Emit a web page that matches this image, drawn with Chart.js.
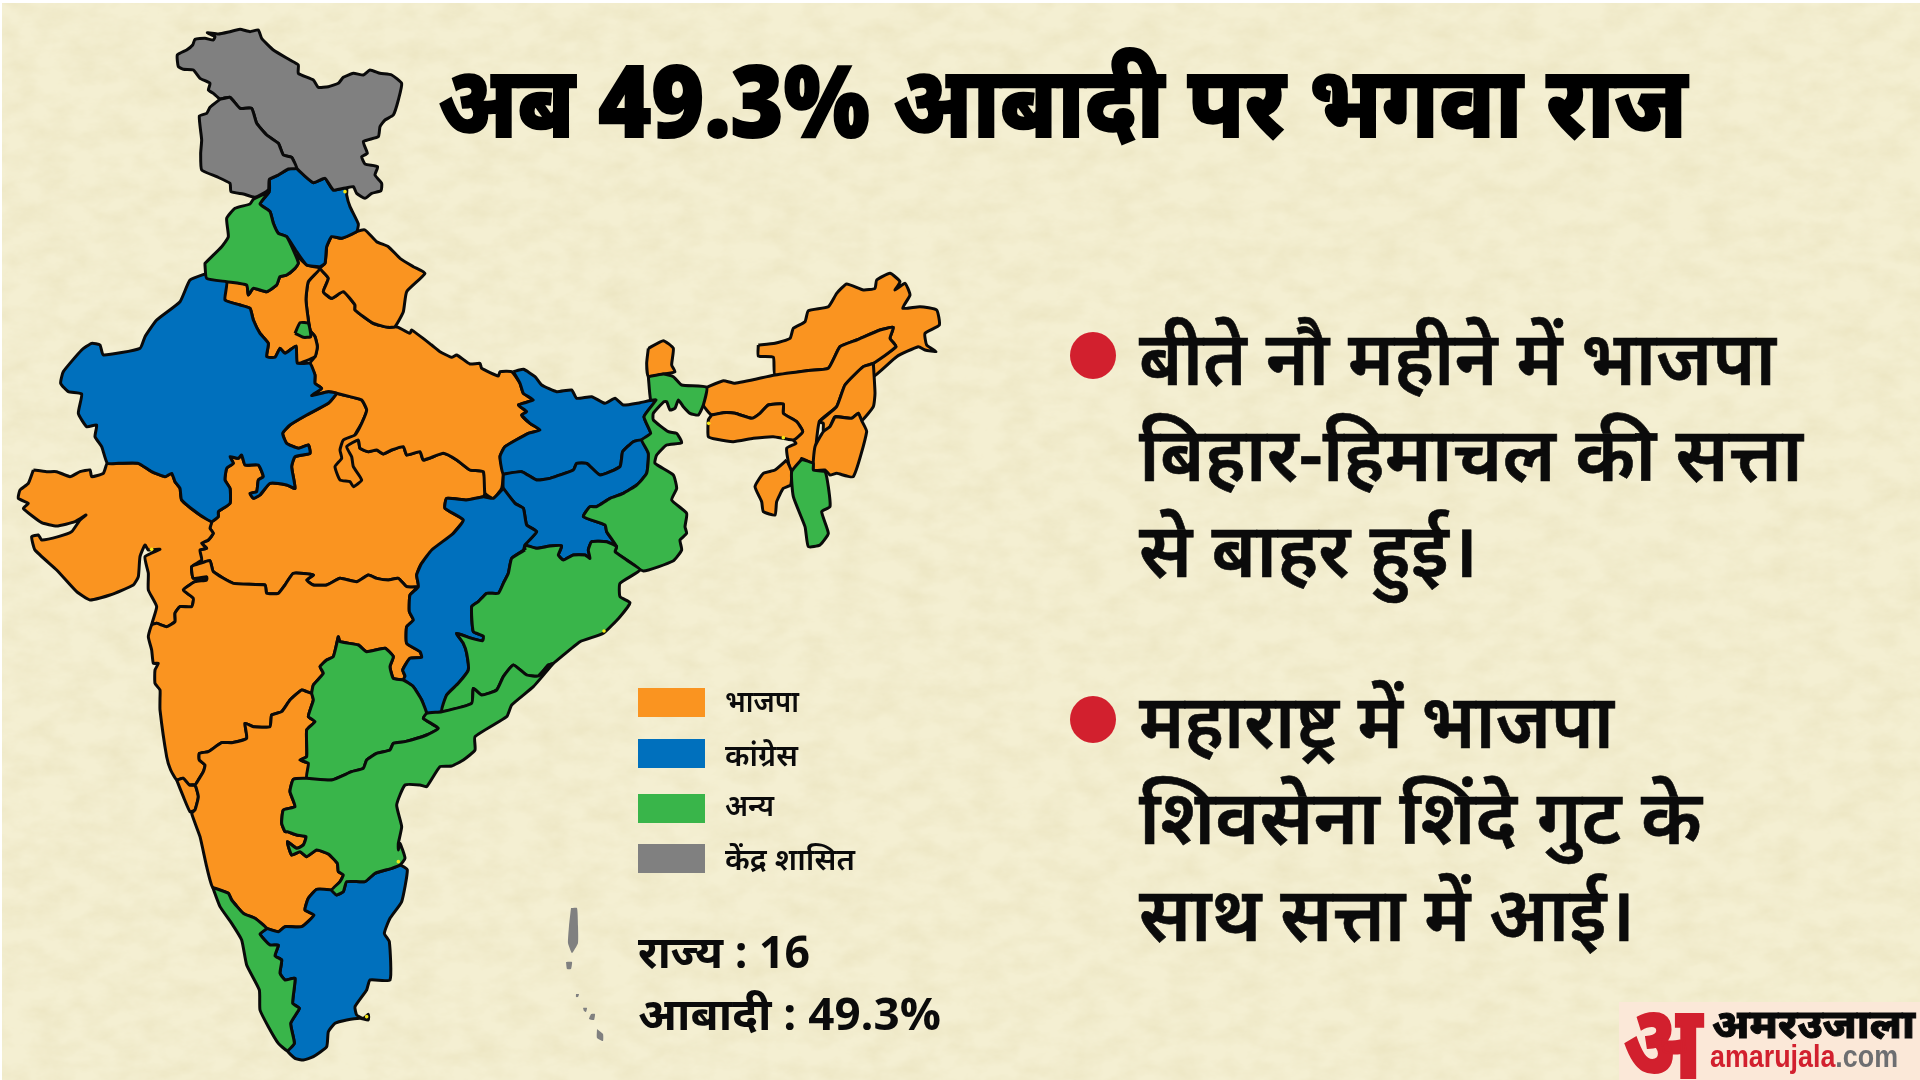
<!DOCTYPE html>
<html>
<head>
<meta charset="utf-8">
<script src="https://cdn.jsdelivr.net/npm/chart.js@4"></script>
<style>
  html, body { margin: 0; background: #fff; }
  #page { position: relative; width: 1920px; height: 1080px; overflow: hidden; font-family: 'Open Sans', 'Noto Sans', sans-serif; color: #0b0b0b; }
  #paper { position: absolute; left: 2px; top: 3px; }
  #mapChart { position: absolute; left: 0; top: 0; }
  .t { position: absolute; white-space: nowrap; line-height: 1; transform-origin: left top; }
  .title { left: 438px; font-size: 100px; font-weight: 800; -webkit-text-stroke: 2px #000; color: #000; }
  .bullet { position: absolute; left: 1070px; width: 46px; height: 47px; border-radius: 50%; background: #d2202e; }
  .line { left: 1139px; font-size: 76px; font-weight: 600; -webkit-text-stroke: 0.6px #0b0b0b; }
  .swatch { position: absolute; left: 638px; width: 67px; height: 29px; }
  .legendText { left: 725px; font-size: 30px; font-weight: 600; }
  .stat { left: 638px; font-size: 44px; font-weight: 700; }
  #logo { position: absolute; left: 1619px; top: 1002px; width: 301px; height: 78px; background: #fbe8d8; }
</style>
</head>
<body>
<div id="page">
  <svg id="paper" width="1918" height="1077">
    <filter id="mottle" x="0" y="0" width="100%" height="100%">
      <feTurbulence type="fractalNoise" baseFrequency="0.03 0.05" numOctaves="5" seed="7"/>
      <feColorMatrix values="0 0 0 0 0.80  0 0 0 0 0.74  0 0 0 0 0.48  0 0 0 0.9 -0.30"/>
    </filter>
    <rect width="1918" height="1077" fill="#f4efd2"/>
    <rect width="1918" height="1077" filter="url(#mottle)"/>
  </svg>
  <canvas id="mapChart" width="1920" height="1080"></canvas>
  <div id="labels"></div>
  <div id="logo"></div>
</div>
<script>
const sheet = (x0, y0) => pts => pts.map(p => [x0 + p[0] / 3, y0 + p[1] / 3]);
const sheetA = sheet(0, 250), sheetB = sheet(150, 550), sheetC = sheet(440, 250);
const sheetD = sheet(150, 20), sheetE = sheet(200, 830), sheetF = sheet(0, 450);

const ladakh = sheetD([[210,238],[190,220],[175,210],[180,190],[150,175],[130,150],[100,148],[85,140],[82,105],[110,90],[128,75],[135,58],[165,55],[190,60],[195,50],[172,38],[205,42],[240,35],[270,28],[300,35],[325,30],[335,55],[370,90],[420,120],[445,135],[445,160],[490,180],[505,202],[535,200],[565,190],[580,172],[610,160],[640,165],[660,150],[690,160],[725,165],[755,190],[745,240],[730,285],[705,300],[690,320],[685,350],[640,365],[652,400],[635,410],[645,432],[683,440],[675,465],[695,490],[693,512],[665,520],[645,535],[620,520],[610,500],[590,503],[550,510],[525,475],[490,488],[440,445],[425,412],[400,405],[385,370],[350,345],[320,310],[305,265],[270,265],[240,232]]);
const jammuKashmir = sheetD([[210,238],[240,232],[270,265],[305,265],[320,310],[350,345],[385,370],[400,405],[425,412],[440,445],[415,447],[385,465],[358,478],[355,510],[315,532],[280,522],[243,515],[240,490],[200,470],[155,450],[152,400],[155,360],[148,288],[170,280],[180,262]]);
const himachal = sheetD([[358,478],[385,465],[415,447],[440,445],[490,488],[525,475],[550,510],[590,503],[590,525],[600,560],[625,612],[620,635],[575,655],[545,650],[530,680],[525,730],[510,740],[470,735],[440,695],[410,650],[385,640],[370,610],[360,575],[330,552],[358,515]]);
const punjab = [...sheetD([[358,515],[310,538],[300,552],[255,565],[230,595],[235,650],[215,680],[165,730]]), ...sheetA([[615,45],[620,85],[680,95],[740,105],[745,135],[760,115],[800,125],[830,105],[840,80],[860,75],[885,55],[895,40],[885,12]]), ...sheetD([[410,650],[385,640],[370,610],[360,575],[330,552]])];
const haryana = sheetA([[885,12],[895,40],[885,55],[860,75],[840,80],[830,105],[800,125],[760,115],[745,135],[740,105],[680,95],[675,150],[720,165],[750,175],[760,210],[780,250],[805,280],[800,320],[825,322],[840,295],[855,310],[888,288],[892,340],[945,320],[952,290],[945,260],[930,240],[918,150],[925,95],[960,55],[920,45]]);
const delhi = sheetA([[885,250],[900,218],[925,220],[932,260],[910,262]]);
const uttarakhand = [...sheetD([[530,680],[545,650],[575,655],[620,635],[645,630],[680,665],[715,680],[750,715]]), ...sheetA([[1240,50],[1275,70],[1220,125],[1210,185],[1185,230],[1165,232],[1120,220],[1065,180],[1065,165],[1030,125],[995,145],[970,125],[985,85],[960,55]]), ...sheetD([[525,730]])];
const rajasthan = sheetA([[620,70],[570,90],[540,155],[470,210],[435,260],[420,295],[310,315],[300,285],[275,280],[245,300],[190,365],[182,400],[205,425],[245,432],[235,490],[260,530],[290,525],[285,560],[305,590],[322,640],[355,640],[415,640],[455,665],[495,680],[515,670],[525,695],[540,715],[545,750],[600,795],[635,815],[655,800],[655,785],[690,760],[690,715],[675,690],[680,655],[700,640],[690,620],[715,625],[725,615],[735,645],[775,645],[790,680],[775,690],[770,725],[750,730],[760,745],[780,735],[810,700],[860,705],[885,715],[875,650],[885,620],[930,610],[925,585],[895,595],[860,580],[848,550],[870,525],[920,495],[985,460],[1010,430],[985,425],[935,437],[965,415],[945,400],[945,375],[930,340],[892,340],[888,288],[855,310],[840,295],[825,322],[800,320],[805,280],[780,250],[760,210],[750,175],[720,165],[675,150],[680,95]]);
const gujarat = sheetF([[100,60],[140,65],[170,65],[210,80],[240,65],[270,60],[275,80],[310,70],[322,40],[360,40],[415,40],[455,65],[495,80],[515,70],[525,95],[540,115],[545,150],[600,195],[635,215],[630,235],[640,250],[625,270],[605,280],[620,295],[600,300],[605,330],[575,350],[580,385],[620,380],[620,390],[585,395],[550,420],[580,445],[575,470],[540,470],[525,490],[525,515],[500,530],[470,520],[455,525],[470,470],[445,420],[445,370],[435,320],[480,298],[445,300],[435,285],[420,320],[415,380],[400,405],[330,435],[270,450],[230,425],[170,360],[105,300],[95,260],[115,255],[125,270],[175,260],[215,245],[240,210],[258,195],[225,215],[170,228],[125,218],[70,175],[85,160],[55,145],[60,120],[85,100]]);
const madhyaPradesh = [...sheetA([[1010,430],[1050,440],[1085,450],[1100,480],[1085,520],[1065,555],[1075,570],[1080,595],[1105,605],[1130,600],[1150,612],[1175,600],[1210,590],[1220,615],[1260,605],[1270,630],[1330,610],[1370,630],[1410,660],[1450,665],[1455,730],[1450,740],[1400,750],[1340,745],[1335,775],[1390,810],[1360,850],[1340,900]]), ...sheetB([[815,40],[800,75],[805,110],[770,110],[745,85],[715,90],[680,85],[655,75],[620,95],[570,85],[530,105],[490,105],[470,90],[490,75],[430,70],[405,105],[385,130],[350,130],[345,105],[250,100],[190,65],[180,32],[150,40]]), ...sheetF([[600,300],[620,295],[605,280],[625,270],[640,250],[630,235],[635,215]]), ...sheetA([[655,800],[655,785],[690,760],[690,715],[675,690],[680,655],[700,640],[690,620],[715,625],[725,615],[735,645],[775,645],[790,680],[775,690],[770,725],[750,730],[760,745],[780,735],[810,700],[860,705],[885,715],[875,650],[885,620],[930,610],[925,585],[895,595],[860,580],[848,550],[870,525],[920,495],[985,460]])];
const uttarPradesh = [...sheetA([[960,55],[925,95],[918,150],[930,240],[945,260],[952,290],[945,320],[930,340],[945,375],[945,400],[965,415],[935,437],[985,425],[1010,430],[1050,440],[1085,450],[1100,480],[1085,520],[1065,555],[1030,570],[1020,600],[1025,625],[1005,650],[1020,690],[1050,695],[1060,710],[1085,690],[1060,650],[1055,620],[1040,590],[1075,570],[1080,595],[1105,605],[1130,600],[1150,612],[1175,600],[1210,590],[1220,615],[1260,605],[1270,630],[1330,610],[1370,630],[1410,660],[1450,665],[1455,730],[1480,745]]), ...sheetC([[185,715],[190,670],[180,620],[195,590],[265,550],[300,540],[270,520],[245,495],[260,485],[235,465],[280,450],[250,430],[240,400],[215,365],[180,365],[175,378],[125,355],[120,340],[90,342],[50,315],[35,322],[0,305]]), ...sheetA([[1295,285],[1235,240],[1230,250],[1195,232],[1185,230],[1165,232],[1120,220],[1065,180],[1065,165],[1030,125],[995,145],[970,125],[985,85]])];
const bihar = sheetC([[220,365],[250,358],[285,380],[305,405],[350,425],[395,420],[410,445],[455,440],[495,460],[525,445],[550,465],[600,458],[648,450],[612,500],[632,550],[605,570],[580,575],[548,605],[540,650],[480,675],[440,640],[410,640],[400,660],[330,685],[290,690],[245,665],[190,672],[180,620],[195,590],[265,550],[300,540],[270,520],[245,495],[260,485],[235,465],[280,450],[250,430],[240,400]]);
const jharkhand = [...sheetC([[190,672],[245,665],[290,690],[330,685],[400,660],[410,640],[440,640],[480,675],[540,650],[548,605],[580,575],[605,570],[625,610],[620,670],[590,705],[550,730],[510,745],[470,770],[450,770],[430,800],[495,825],[500,845],[530,890],[500,875],[455,875],[445,900]]), ...sheetB([[1320,25],[1305,15],[1270,15],[1240,30],[1225,15]]), ...sheetC([[365,888],[330,888],[290,895],[255,885],[290,845],[260,825],[250,775],[225,760],[190,715]])];
const chhattisgarh = [...sheetC([[190,715],[225,760],[250,775],[260,825],[290,845],[255,885],[250,900]]), ...sheetB([[1085,25],[1075,70],[1060,100],[1045,130],[1010,130],[985,155],[965,170],[970,245],[1000,258],[998,272],[965,265],[920,250],[940,280],[950,310],[955,360],[925,400],[890,435],[875,485],[830,490],[815,450],[790,410],[760,390],[765,378],[758,360],[780,325],[815,322],[810,305],[770,280],[770,230],[790,210],[778,185],[780,135],[805,110],[800,75],[815,40],[845,0]]), ...sheetA([[1360,850],[1390,810],[1335,775],[1340,745],[1400,750],[1450,740],[1480,745]])];
const telangana = sheetB([[565,260],[570,275],[625,285],[650,305],[705,295],[730,320],[720,350],[730,385],[760,390],[790,410],[815,450],[830,490],[820,505],[865,535],[830,555],[765,575],[730,580],[720,600],[680,610],[650,630],[640,655],[605,665],[545,690],[470,685],[475,640],[450,630],[470,620],[470,540],[495,515],[475,500],[490,450],[485,430],[490,405],[520,370],[510,350],[530,330],[550,320]]);
const maharashtra = [...sheetB([[805,110],[770,110],[745,85],[715,90],[680,85],[655,75],[620,95],[570,85],[530,105],[490,105],[470,90],[490,75],[430,70],[405,105],[385,130],[350,130],[345,105],[250,100],[190,65],[180,32],[150,40]]), ...sheetF([[575,350],[580,385],[620,380],[620,390],[585,395],[550,420],[580,445],[575,470],[540,470],[525,490],[525,515],[500,530],[470,520],[455,525],[445,560],[455,600],[460,640],[475,640],[465,660],[465,700],[480,720],[480,745]]), ...sheetB([[30,480],[50,620],[62,660],[80,690],[100,685],[118,705],[135,705],[145,690],[160,665],[165,645],[148,630],[148,610],[175,605],[215,578],[245,578],[290,565],[285,520],[310,530],[360,530],[365,495],[395,485],[420,450],[455,420],[470,425],[485,430],[490,405],[520,370],[510,350],[530,330],[550,320],[565,260],[570,275],[625,285],[650,305],[705,295],[730,320],[720,350],[730,385],[760,390],[765,378],[758,360],[780,325],[815,322],[810,305],[770,280],[770,230],[790,210],[778,185],[780,135]])];
const goa = sheetB([[80,690],[100,685],[118,705],[135,705],[145,740],[135,780],[120,785],[100,740]]);
const karnataka = [...sheetB([[118,705],[135,705],[145,690],[160,665],[165,645],[148,630],[148,610],[175,605],[215,578],[245,578],[290,565],[285,520],[310,530],[360,530],[365,495],[395,485],[420,450],[455,420],[470,425],[485,430],[490,450],[475,500],[495,515],[470,540],[470,620],[450,630],[475,640],[470,685],[430,688],[420,725],[435,770],[400,780],[395,820],[405,845]]), ...sheetE([[262,5],[290,15],[318,20],[310,45],[290,55],[262,35],[275,75],[300,65],[320,80],[350,60],[385,72],[412,100],[415,125],[430,135],[420,155],[395,180],[350,178],[325,205],[315,240],[342,255],[305,290],[255,290],[235,305],[200,295],[165,265],[130,250],[95,210],[85,190],[38,172],[20,110],[0,20]]), ...sheetB([[125,790],[135,780],[145,740],[135,705]])];
const andhra = [...sheetB([[1210,340],[1150,410],[1085,465],[1070,500],[975,560],[975,600],[940,630],[905,648],[870,650],[830,710],[810,705],[765,705],[740,765],[755,830],[745,880],[745,900]]), ...sheetE([[600,40],[615,85],[600,105],[575,115],[525,130],[495,155],[440,155],[430,185],[410,195],[395,180],[420,155],[430,135],[415,125],[412,100],[385,72],[350,60],[320,80],[300,65],[275,75],[262,35],[290,55],[310,45],[318,20],[290,15],[262,5]]), ...sheetB([[405,845],[395,820],[400,780],[435,770],[420,725],[430,688],[470,685],[545,690],[605,665],[640,655],[650,630],[680,610],[720,600],[730,580],[765,575],[830,555],[865,535],[820,505],[830,490],[875,485],[965,460],[970,415],[995,435],[1040,420],[1060,380],[1090,345],[1130,375],[1165,378],[1195,345]])];
const kerala = sheetE([[38,172],[85,190],[95,210],[130,250],[165,265],[200,295],[180,312],[210,345],[235,345],[225,378],[245,390],[240,430],[255,450],[285,445],[278,520],[298,535],[272,580],[283,640],[262,662],[235,640],[205,590],[180,540],[178,480],[140,405],[125,330],[95,280],[60,230]]);
const tamilNadu = sheetE([[200,295],[235,305],[255,290],[305,290],[342,255],[315,240],[325,205],[350,178],[395,180],[410,195],[430,185],[440,155],[495,155],[525,130],[575,115],[600,105],[622,120],[605,215],[570,265],[553,310],[568,335],[570,450],[510,450],[500,480],[465,530],[470,555],[490,565],[505,553],[505,570],[480,565],[440,570],[405,580],[385,605],[380,650],[340,680],[310,690],[285,685],[262,662],[283,640],[272,580],[298,535],[278,520],[285,445],[255,450],[240,430],[245,390],[225,378],[235,345],[210,345],[180,312]]);
const odisha = [...sheetB([[1125,0],[1085,25],[1075,70],[1060,100],[1045,130],[1010,130],[985,155],[965,170],[970,245],[1000,258],[998,272],[965,265],[920,250],[940,280],[950,310],[955,360],[925,400],[890,435],[875,485],[965,460],[970,415],[995,435],[1040,420],[1060,380],[1090,345],[1130,375],[1165,378],[1195,345],[1210,340],[1290,275],[1360,250],[1410,200],[1440,158],[1410,140],[1410,100],[1470,60],[1430,30],[1395,5]]), ...sheetC([[530,890],[500,875],[455,875],[445,900]]), ...sheetB([[1320,25],[1305,15],[1270,15],[1240,30],[1225,15]]), ...sheetC([[365,888],[330,888],[290,895],[255,885]])];
const westBengal = [...sheetC([[625,380],[670,372],[700,380],[725,405],[800,412],[790,465],[775,495],[750,490],[730,470],[715,450],[705,475],[690,480],[680,455],[672,455],[640,490],[640,510],[685,545],[710,550],[725,578],[680,585],[650,615],[645,640],[700,675],[710,715],[695,750],[740,790],[735,830],[740,850],[720,870],[725,900],[699,933],[610,963]]), ...sheetB([[1430,30],[1395,5]]), ...sheetC([[530,890],[500,845],[495,825],[430,800],[450,770],[470,770],[510,745],[550,730],[590,705],[620,670],[625,610],[605,570],[632,550],[612,500],[648,450],[632,450]])];
const sikkim = sheetC([[625,295],[670,272],[700,295],[695,345],[705,365],[670,372],[625,380],[620,340]]);
const arunachal = sheetC([[955,285],[1005,280],[1050,265],[1060,235],[1095,215],[1105,182],[1165,170],[1190,130],[1220,102],[1270,120],[1305,115],[1310,90],[1350,70],[1380,95],[1365,120],[1395,100],[1410,135],[1388,175],[1440,170],[1490,180],[1498,225],[1455,250],[1460,285],[1488,305],[1455,300],[1435,290],[1370,320],[1302,378],[1300,340],[1368,290],[1350,265],[1360,232],[1320,240],[1250,270],[1200,290],[1165,355],[1100,362],[1005,375],[1000,322],[955,318]]);
const assam = sheetC([[800,412],[850,392],[885,400],[1005,375],[1100,362],[1165,355],[1200,290],[1250,270],[1320,240],[1360,232],[1350,265],[1368,290],[1300,340],[1270,350],[1215,405],[1190,470],[1138,515],[1120,640],[1085,625],[1075,665],[1050,655],[1040,595],[1068,580],[1060,570],[1088,545],[1070,515],[1030,490],[1030,462],[985,465],[960,490],[935,505],[885,490],[850,488],[815,495],[790,465]]);
const meghalaya = sheetC([[815,495],[850,488],[885,490],[935,505],[960,490],[985,465],[1030,462],[1030,490],[1070,515],[1088,545],[1060,570],[1000,560],[940,565],[880,575],[830,568],[805,560],[805,510]]);
const nagaland = sheetC([[1300,340],[1305,430],[1300,470],[1265,512],[1255,490],[1235,505],[1185,500],[1170,530],[1150,545],[1150,520],[1138,515],[1190,470],[1215,405],[1270,350]]);
const manipur = sheetC([[1185,500],[1235,505],[1255,490],[1265,512],[1280,545],[1240,680],[1190,670],[1170,675],[1155,660],[1120,660],[1125,590],[1150,545],[1170,530]]);
const tripura = sheetC([[1040,630],[1005,660],[970,670],[945,710],[965,755],[970,785],[1005,795],[1010,755],[1030,715],[1052,705],[1055,665]]);
const mizoram = sheetC([[1085,628],[1120,640],[1120,660],[1155,665],[1165,710],[1170,770],[1145,785],[1165,850],[1140,885],[1105,890],[1095,830],[1060,740],[1055,665]]);

// islands, no outline
const lakshadweep = [[571,908],[577,908],[578,926],[578,943],[572,953],[568,943],[569,926]];
const minicoy = [[566,962],[572,962],[571,969],[567,969]];
const andamanA = [[591,1014],[595,1014],[594,1020],[589,1019]];
const andamanB = [[597,1029],[603,1034],[603,1041],[597,1038]];
const andamanC = [[576,994],[579,994],[578,997],[576,997]];
const andamanD = [[583,1008],[587,1008],[586,1012],[584,1011]];

const yellowSpots = [...sheetD([[585,515]]), ...sheetC([[806,520],[1030,563]]), ...sheetE([[595,95],[500,560]]), ...sheetF([[455,298]]), ...sheetB([[1362,243]])];

const bjpStates = [madhyaPradesh, uttarPradesh, haryana, uttarakhand, gujarat, maharashtra, goa, karnataka, sikkim, arunachal, assam, meghalaya, nagaland, manipur, tripura];
const congressStates = [rajasthan, himachal, bihar, jharkhand, chhattisgarh, tamilNadu];
const otherStates = [punjab, delhi, westBengal, odisha, telangana, andhra, kerala, mizoram];
const unionTerritories = [ladakh, jammuKashmir];
const islands = [lakshadweep, minicoy, andamanA, andamanB, andamanC, andamanD];

const legendLabels = ['भाजपा', 'कांग्रेस', 'अन्य', 'केंद्र शासित'];
const statLabels = ['राज्य : 16', 'आबादी : 49.3%'];
const titleText = 'अब 49.3% आबादी पर भगवा राज';
const noteOne = ['बीते नौ महीने में भाजपा', 'बिहार-हिमाचल की सत्ता', 'से बाहर हुई।'];
const noteTwo = ['महाराष्ट्र में भाजपा', 'शिवसेना शिंदे गुट के', 'साथ सत्ता में आई।'];

const colors = { bjp: '#fa9420', congress: '#0070bd', other: '#39b54a', ut: '#808080', spot: '#f5e616' };
const groupColors = [colors.bjp, colors.congress, colors.other, colors.ut];

function regionDataset(ring, color, outlined) {
    return {
        data: ring.concat([ring[0]]).map(p => ({ x: p[0], y: p[1] })),
        showLine: true,
        fill: 'shape',
        backgroundColor: color,
        borderColor: outlined ? '#0a0a0a' : color,
        borderWidth: outlined ? 3 : 0,
        borderJoinStyle: 'round',
        tension: 0.15,
        pointRadius: 0,
        clip: false
    };
}

function createMapChart() {
    const datasets = [];
    [bjpStates, congressStates, otherStates, unionTerritories].forEach((group, i) => {
        group.forEach(ring => datasets.push(regionDataset(ring, groupColors[i], true)));
    });
    islands.forEach(ring => datasets.push(regionDataset(ring, colors.ut, false)));
    datasets.push({
        data: yellowSpots.map(p => ({ x: p[0], y: p[1] })),
        showLine: false,
        pointRadius: 1.8,
        pointBackgroundColor: colors.spot,
        pointBorderWidth: 0
    });
    // chart.js paints the first dataset last
    datasets.reverse();

    new Chart(document.getElementById('mapChart'), {
        type: 'scatter',
        data: { datasets: datasets },
        options: {
            responsive: false,
            animation: false,
            events: [],
            layout: { padding: 0, autoPadding: false },
            plugins: { legend: { display: false }, tooltip: { enabled: false }, title: { display: false } },
            scales: {
                x: { type: 'linear', min: 0, max: 1920, display: false },
                y: { type: 'linear', min: 0, max: 1080, reverse: true, display: false }
            }
        }
    });
}

// squeeze a text line to the width it has in the picture
function fit(el, width) {
    el.style.transform = 'none';
    el.style.transform = 'scaleX(' + (width / el.getBoundingClientRect().width) + ')';
}

function addText(parent, cls, text, top, width) {
    const el = document.createElement('div');
    el.className = 't ' + cls;
    el.textContent = text;
    el.style.top = top + 'px';
    parent.appendChild(el);
    if (width) fit(el, width);
    return el;
}

function addBox(parent, cls, top, color) {
    const el = document.createElement('div');
    el.className = cls;
    el.style.top = top + 'px';
    if (color) el.style.background = color;
    parent.appendChild(el);
}

function createLabels() {
    const labels = document.getElementById('labels');
    addText(labels, 'title', titleText, 48, 1249);
    [332, 696].forEach(top => addBox(labels, 'bullet', top));
    [[318, 637], [414, 664], [510, 339]].forEach((p, i) => addText(labels, 'line', noteOne[i], p[0], p[1]));
    [[681, 475], [777, 563], [874, 496]].forEach((p, i) => addText(labels, 'line', noteTwo[i], p[0], p[1]));
    [688, 739, 794, 844].forEach((top, i) => addBox(labels, 'swatch', top, groupColors[i]));
    [[686, 74], [740, 73], [790, 49], [844, 130]].forEach((p, i) => addText(labels, 'legendText', legendLabels[i], p[0], p[1]));
    [[929, 172], [991, 303]].forEach((p, i) => addText(labels, 'stat', statLabels[i], p[0], p[1]));
}

function createLogo() {
    const logo = document.getElementById('logo');
    const mark = addText(logo, '', 'अ', -15);
    mark.style.cssText += ';left:4px;font-size:103px;font-weight:800;color:#d2202e;-webkit-text-stroke:2px #d2202e';
    fit(mark, 79);
    const name = addText(logo, '', 'अमरउजाला', 1);
    name.style.cssText += ';left:93px;font-size:40px;font-weight:800;color:#0a0a0a;-webkit-text-stroke:1px #0a0a0a';
    fit(name, 203);
    const site = addText(logo, '', '', 38);
    site.innerHTML = 'amarujala<span style="color:#6d6e71">.com</span>';
    site.style.cssText += ";left:91px;font-family:'Liberation Sans',sans-serif;font-size:32px;font-weight:700;color:#d2202e";
    fit(site, 188);
}

createMapChart();
createLabels();
createLogo();
</script>
</body>
</html>
